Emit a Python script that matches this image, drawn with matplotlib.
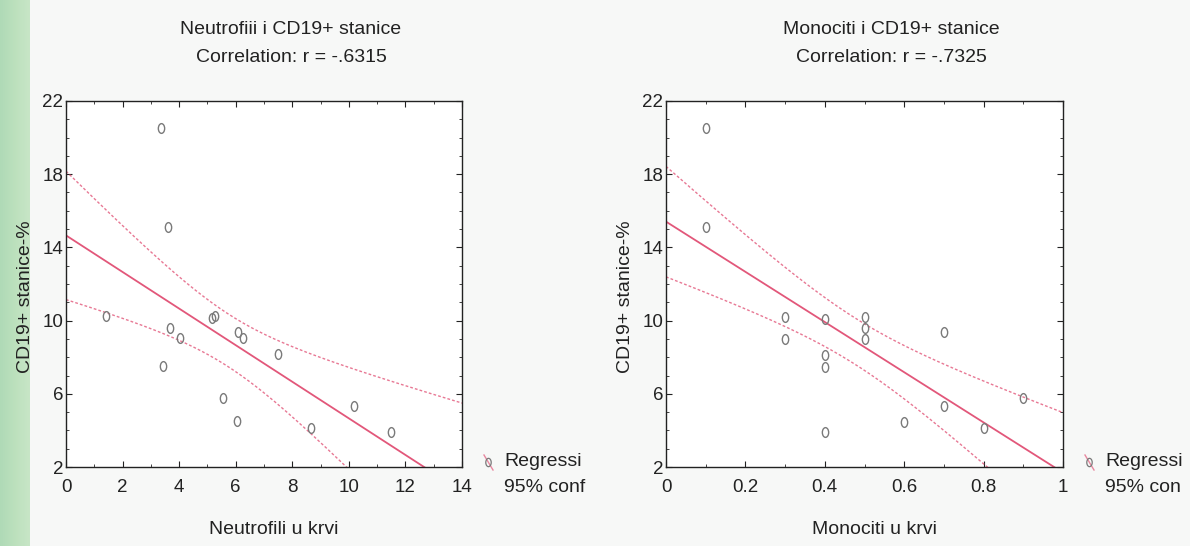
import numpy as np
import matplotlib
matplotlib.use('Agg')
import matplotlib.pyplot as plt
from matplotlib.path import Path
from matplotlib.transforms import Affine2D
from matplotlib.lines import Line2D

plt.rcParams['font.family'] = ['Liberation Sans', 'DejaVu Sans']

# data
neutrofili = [3.37, 3.59, 1.43, 3.68, 4.04, 3.42, 5.17, 5.26, 6.08, 6.26, 7.48, 5.54, 6.06, 8.65, 10.18, 11.5]
cd19_n = [20.54, 15.13, 10.24, 9.6, 9.06, 7.54, 10.15, 10.26, 9.37, 9.06, 8.16, 5.79, 4.5, 4.13, 5.35, 3.93]
monociti = [0.1, 0.1, 0.3, 0.3, 0.4, 0.4, 0.4, 0.4, 0.5, 0.5, 0.5, 0.6, 0.7, 0.7, 0.8, 0.9]
cd19_m = [20.54, 15.09, 10.19, 8.98, 10.1, 8.14, 7.47, 3.9, 10.22, 9.6, 9.02, 4.46, 9.35, 5.34, 4.13, 5.76]

titles = ['Neutrofiii i CD19+ stanice', 'Monociti i CD19+ stanice']
corr_text = ['Correlation: r = -.6315', 'Correlation: r = -.7325']
xlabels = ['Neutrofili u krvi', 'Monociti u krvi']
ylabel = 'CD19+ stanice-%'
# legend text is cut off by the panel edge in the picture
legend_labels = [['Regressi', '95% conf'], ['Regressi', '95% con']]

W, H = 1190, 546
fig = plt.figure(figsize=(W / 100, H / 100), dpi=100)
fig.patch.set_facecolor('#f7f8f7')

# faint mint scan tint on the left edge
bg = fig.add_axes([0, 0, 0.025, 1], zorder=-5)
bg.imshow(np.linspace(1, 0, 50)[None, :], aspect='auto', cmap='Greens', vmin=-3, vmax=4, alpha=0.45)
bg.axis('off')

def fx(px):
    return px / W

def fy(py):
    return 1 - py / H

line_col = '#e2577a'
pt_col = '#7a7a7a'
txt_col = '#222222'
oval = Path.unit_circle().transformed(Affine2D().scale(0.65, 1.0))

panels = [
    (neutrofili, cd19_n, 66, 462, (0, 14), 2, 1, None),
    (monociti, cd19_m, 666, 1063, (0, 1), 0.2, 0.1, ['0', '0.2', '0.4', '0.6', '0.8', '1']),
]
fs_tick = 13.5
fs_txt = 14

for i, (xs, ys, left, right, xlim, xmaj, xmin, xtl) in enumerate(panels):
    xs = np.array(xs)
    ys = np.array(ys)
    ax = fig.add_axes([fx(left), fy(467), (right - left) / W, (467 - 101) / H])
    ax.set_facecolor('white')

    # linear regression + confidence band
    n = len(xs)
    b, a = np.polyfit(xs, ys, 1)
    xx = np.linspace(xlim[0], xlim[1], 200)
    yy = a + b * xx
    resid = ys - (a + b * xs)
    s = np.sqrt(np.sum(resid ** 2) / (n - 2))
    sxx = np.sum((xs - xs.mean()) ** 2)
    t = 1.68  # band width as it appears in the picture
    half = t * s * np.sqrt(1 / n + (xx - xs.mean()) ** 2 / sxx)
    ax.plot(xx, yy, color=line_col, lw=1.3)
    ax.plot(xx, yy + half, color=line_col, lw=1.0, ls=(0, (2, 1.5)), alpha=0.8)
    ax.plot(xx, yy - half, color=line_col, lw=1.0, ls=(0, (2, 1.5)), alpha=0.8)
    ax.plot(xs, ys, ls='none', marker=oval, ms=7, mfc='none', mec=pt_col, mew=1.0)

    ax.set_xlim(*xlim)
    ax.set_ylim(2, 22)
    ax.set_xticks(np.arange(xlim[0], xlim[1] + xmaj / 2, xmaj))
    if xtl:
        ax.set_xticklabels(xtl)
    ax.set_xticks(np.arange(xlim[0], xlim[1] + xmin / 2, xmin), minor=True)
    ax.set_yticks([2, 6, 10, 14, 18, 22])
    ax.set_yticks(np.arange(2, 22.5, 1), minor=True)
    ax.tick_params(which='both', direction='in', top=True, right=True, labelsize=fs_tick, colors=txt_col)
    ax.tick_params(which='major', length=4)
    ax.tick_params(which='minor', length=2)
    ax.tick_params(axis='x', pad=9)
    ax.tick_params(axis='y', pad=2)
    for sp in ax.spines.values():
        sp.set_color(txt_col)
        sp.set_linewidth(1.0)

    cx = (left + right) / 2
    fig.text(fx(cx + 27), fy(29), titles[i], ha='center', va='center', fontsize=fs_txt, color=txt_col)
    fig.text(fx(cx + 27), fy(57), corr_text[i], ha='center', va='center', fontsize=fs_txt, color=txt_col)
    fig.text(fx(cx + 10), fy(529), xlabels[i], ha='center', va='center', fontsize=fs_txt, color=txt_col)
    fig.text(fx(left - 41), fy(297), ylabel, ha='center', va='center', rotation=90, fontsize=fs_txt, color=txt_col)

    # legend
    ix = right + 26
    fig.add_artist(Line2D([fx(ix - 4), fx(ix + 5)], [fy(455), fy(470)], color=line_col, lw=1.0, alpha=0.7))
    fig.add_artist(Line2D([fx(ix)], [fy(462)], marker=oval, ms=6, mfc='none', mec=pt_col, mew=0.9))
    for j, lab in enumerate(legend_labels[i]):
        fig.text(fx(right + 42), fy(462 + 26 * j), lab, ha='left', va='center', fontsize=fs_txt, color=txt_col)

fig.savefig('out.png', dpi=100, facecolor=fig.get_facecolor())
